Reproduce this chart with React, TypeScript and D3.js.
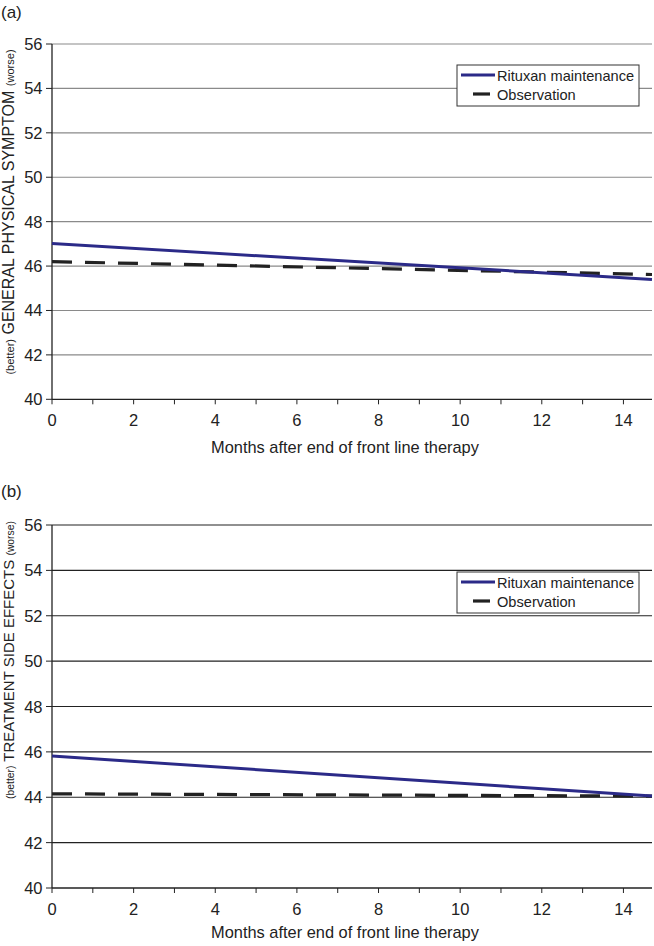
import React from "react";
import * as d3 from "d3";

const months = [0, 14.7];
const rituxanA = [47.02, 45.4];
const observationA = [46.2, 45.62];
const rituxanB = [45.82, 44.05];
const observationB = [44.15, 44.05];
const yTicks = [40, 42, 44, 46, 48, 50, 52, 54, 56];
const xTicks = d3.range(0, 15, 1);
const xLabels = [0, 2, 4, 6, 8, 10, 12, 14];
const seriesNames = ["Rituxan maintenance", "Observation"];

const FONT = "'Liberation Sans', Arial, Helvetica, sans-serif";
const BLUE = "#2b2a88";

type PanelProps = {
  top: number;
  bottom: number;
  letter: string;
  letterY: number;
  labelMain: string;
  labelCenter: number;
  labelSize: number;
  rit: number[];
  obs: number[];
  gridColor: string;
  legendY: number;
  tickLabelY: number;
  titleY: number;
};

function Panel(p: PanelProps) {
  const x = d3.scaleLinear().domain([0, 14.7]).range([52, 652]);
  const y = d3.scaleLinear().domain([40, 56]).range([p.bottom, p.top]);
  const line = d3
    .line<number>()
    .x((_, i) => x(months[i]))
    .y((d) => y(d));
  const lx = 457;
  const lw = 182;
  return (
    <g fontFamily={FONT}>
      <text x={1} y={p.letterY} fontSize={17} fill="#222">
        {p.letter}
      </text>
      {yTicks.slice(1).map((t) => (
        <line key={"g" + t} x1={x(0)} x2={652} y1={y(t)} y2={y(t)} stroke={p.gridColor} strokeWidth={1.2} />
      ))}
      {yTicks.map((t) => (
        <g key={"y" + t}>
          <line x1={x(0) - 6} x2={x(0)} y1={y(t)} y2={y(t)} stroke="#222" strokeWidth={1} />
          <text x={x(0) - 9.5} y={y(t) + 6} fontSize={16.5} textAnchor="end" fill="#222">
            {t}
          </text>
        </g>
      ))}
      {xTicks.map((t) => (
        <line key={"x" + t} x1={x(t)} x2={x(t)} y1={y(40)} y2={y(40) + 5} stroke="#222" strokeWidth={1} />
      ))}
      {xLabels.map((t) => (
        <text key={"xl" + t} x={x(t)} y={p.tickLabelY} fontSize={16.5} textAnchor="middle" fill="#222">
          {t}
        </text>
      ))}
      <line x1={x(0)} x2={x(0)} y1={y(56)} y2={y(40)} stroke="#222" strokeWidth={1.3} />
      <line x1={x(0)} x2={652} y1={y(40)} y2={y(40)} stroke="#222" strokeWidth={1.3} />
      <text x={345} y={p.titleY} fontSize={16.4} textAnchor="middle" fill="#222">
        Months after end of front line therapy
      </text>
      <text
        transform={`translate(14,${p.labelCenter}) rotate(-90)`}
        textAnchor="middle"
        fontSize={p.labelSize}
        fill="#222"
      >
        <tspan fontSize={p.labelSize * 0.69}>(better)</tspan>
        <tspan> {p.labelMain} </tspan>
        <tspan fontSize={p.labelSize * 0.69}>(worse)</tspan>
      </text>
      <path d={line(p.obs) || ""} fill="none" stroke="#222" strokeWidth={3.2} strokeDasharray="20,13" />
      <path d={line(p.rit) || ""} fill="none" stroke={BLUE} strokeWidth={3} />
      <rect x={lx} y={p.legendY} width={lw} height={41} fill="#fff" stroke="#333" strokeWidth={1} />
      <line x1={461} x2={495} y1={p.legendY + 10} y2={p.legendY + 10} stroke={BLUE} strokeWidth={3} />
      <line x1={473} x2={490} y1={p.legendY + 29} y2={p.legendY + 29} stroke="#222" strokeWidth={3.2} />
      <text x={497} y={p.legendY + 16} fontSize={14.6} fill="#222">
        {seriesNames[0]}
      </text>
      <text x={497} y={p.legendY + 35} fontSize={14.6} fill="#222">
        {seriesNames[1]}
      </text>
    </g>
  );
}

export default function App() {
  return (
    <svg
      width={654}
      height={946}
      style={{ position: "absolute", left: 0, top: 0, background: "#fff" }}
    >
      <rect width={654} height={946} fill="#fff" />
      <Panel
        top={44}
        bottom={399.3}
        letter="(a)"
        letterY={18}
        labelMain="GENERAL PHYSICAL SYMPTOM"
        labelCenter={212}
        labelSize={16}
        rit={rituxanA}
        obs={observationA}
        gridColor="#8a8a8a"
        legendY={65}
        tickLabelY={426}
        titleY={453}
      />
      <Panel
        top={525}
        bottom={888}
        letter="(b)"
        letterY={497}
        labelMain="TREATMENT SIDE EFFECTS"
        labelCenter={660}
        labelSize={15}
        rit={rituxanB}
        obs={observationB}
        gridColor="#222"
        legendY={572}
        tickLabelY={915}
        titleY={938}
      />
    </svg>
  );
}
